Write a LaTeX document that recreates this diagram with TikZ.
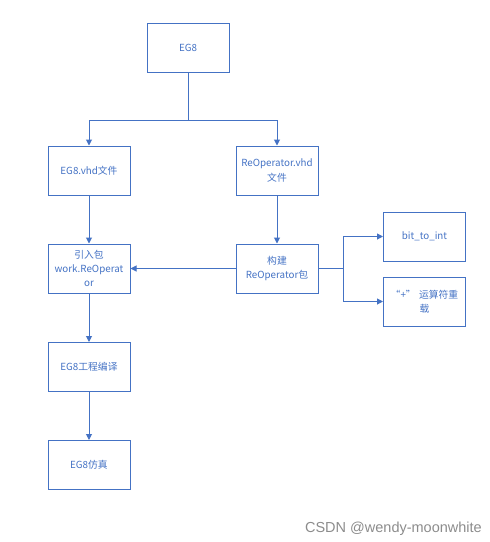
\documentclass[tikz,border=0pt]{standalone}
\usepackage{fontspec}
\setmainfont{Noto Sans CJK SC}
\newfontfamily\wm{Liberation Sans}
\usetikzlibrary{arrows.meta}
\definecolor{bl}{HTML}{4472C4}
\begin{document}
\begin{tikzpicture}[x=1pt,y=-1pt,
  box/.style={draw=bl,line width=1pt,minimum width=82pt,minimum height=49pt,text width=80pt,align=center,font=\fontsize{9.8}{14.3}\selectfont,text=bl,inner sep=0.5pt},
  arr/.style={draw=bl,line width=1pt,-{Triangle[length=6pt,width=6pt]}},
  ln/.style={draw=bl,line width=1pt}]
\useasboundingbox (0,0) rectangle (490,542);
\node[box] (eg8) at (188,47.5) {EG8};
\node[box] (vhd) at (89,170.5) {EG8.vhd文件};
\node[box] (rvhd) at (277,170.5) {ReOperator.vhd\\文件};
\node[box] (inc) at (89,268.5) {引入包\\work.ReOperat\\or};
\node[box] (build) at (277,268.5) {构建\\ReOperator包};
\node[box] (b2i) at (424.5,236.5) {bit\_to\_int};
\node[box] (plus) at (424.5,301.5) {“+” 运算符重\\载};
\node[box] (comp) at (89,367) {EG8工程编译};
\node[box] (sim) at (89,465) {EG8仿真};
\coordinate (j1) at (188,120);
\coordinate (j2) at (343,268.5);
\draw[ln] (eg8.south) -- (j1);
\draw[arr] (j1) -| (vhd.north);
\draw[arr] (j1) -| (rvhd.north);
\draw[arr] (vhd) -- (inc);
\draw[arr] (rvhd) -- (build);
\draw[arr] (build) -- (inc);
\draw[ln] (build.east) -- (j2);
\draw[arr] (j2) |- (b2i.west);
\draw[arr] (j2) |- (plus.west);
\draw[arr] (inc) -- (comp);
\draw[arr] (comp) -- (sim);
\node[anchor=east,font=\wm\fontsize{14.5}{16}\selectfont,text=black!45,inner sep=0] (wm) at (482,529) {CSDN @wendy-moonwhite};
\end{tikzpicture}
\end{document}
